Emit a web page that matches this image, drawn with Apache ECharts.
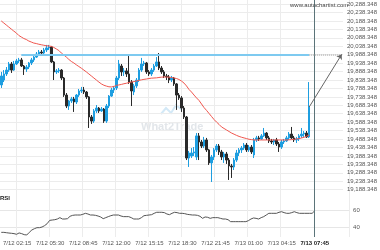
<!DOCTYPE html>
<html><head><meta charset="utf-8">
<script src="https://cdn.jsdelivr.net/npm/echarts@6/dist/echarts.min.js"></script>
<style>html,body{margin:0;padding:0;background:#fff}#c{width:380px;height:250px}</style>
</head><body><div id="c"></div>
<script>
// 15-minute candles (open, close, low, high)
const opens = [19809,19838,19874,19897,19933,19897,19933,19951,19957,19921,
19903,19915,19939,19957,19974,19992,20004,19998,20016,20028,
20034,19945,19886,19892,19897,19850,19749,19684,19714,19726,
19708,19749,19773,19779,19767,19738,19619,19595,19655,19672,
19655,19666,19595,19684,19743,19779,19791,19850,19921,19886,
19892,19874,19826,19767,19803,19838,19897,19933,19939,19886,
19874,19897,19921,19945,19909,19886,19862,19856,19838,19850,
19815,19749,19732,19672,19619,19376,19388,19406,19382,19507,
19471,19447,19483,19424,19347,19382,19424,19447,19412,19382,
19400,19364,19329,19323,19364,19406,19424,19435,19453,19424,
19441,19394,19483,19495,19489,19507,19524,19495,19477,19471,
19483,19459,19441,19471,19477,19495,19518,19495,19483,19489,
19507,19518,19524,19501];
const closes = [19862,19874,19897,19933,19897,19933,19951,19957,19921,19903,
19915,19939,19957,19974,19992,20004,19998,20016,20028,20034,
19945,19886,19892,19897,19850,19749,19684,19714,19726,19708,
19749,19773,19779,19767,19738,19619,19595,19655,19672,19655,
19666,19595,19684,19743,19779,19791,19850,19933,19886,19892,
19874,19826,19773,19803,19838,19897,19933,19939,19886,19874,
19897,19921,19945,19909,19886,19862,19856,19838,19850,19815,
19749,19732,19672,19619,19376,19406,19406,19412,19507,19471,
19447,19483,19424,19347,19382,19424,19447,19412,19382,19400,
19364,19329,19323,19364,19406,19424,19435,19453,19424,19441,
19412,19483,19495,19489,19507,19524,19495,19477,19471,19483,
19459,19441,19471,19477,19495,19518,19495,19483,19489,19507,
19518,19524,19501,19678];
const lows = [19791,19826,19862,19886,19880,19892,19927,19939,19915,19868,
19886,19903,19927,19945,19969,19980,19986,19992,20004,20016,
19939,19838,19874,19880,19838,19738,19672,19661,19702,19649,
19696,19738,19761,19755,19726,19554,19578,19584,19643,19643,
19649,19584,19584,19672,19738,19761,19779,19838,19862,19862,
19856,19815,19684,19749,19791,19826,19886,19921,19874,19862,
19862,19886,19915,19897,19874,19850,19838,19820,19826,19803,
19661,19720,19649,19607,19364,19323,19376,19388,19364,19364,
19435,19435,19412,19335,19234,19364,19412,19394,19364,19347,
19341,19246,19258,19305,19353,19388,19406,19424,19412,19412,
19400,19376,19471,19477,19483,19501,19483,19465,19459,19453,
19447,19412,19430,19459,19471,19483,19489,19471,19465,19477,
19495,19501,19495,19495];
const highs = [19886,19897,19915,19945,19945,19951,19963,19969,19969,19927,
19927,19945,19969,19986,20004,20016,20016,20028,20046,20046,
20040,19951,19903,19909,19903,19856,19761,19720,19738,19738,
19755,19785,19797,19797,19773,19743,19631,19666,19690,19678,
19678,19672,19696,19749,19791,19803,19862,19957,19933,19909,
19909,19992,19838,19815,19850,19909,19969,19951,19945,19897,
19909,19933,19974,19998,19921,19897,19874,19868,19862,19856,
19820,19761,19743,19684,19625,19418,19435,19441,19524,19524,
19483,19501,19495,19430,19394,19435,19459,19459,19424,19412,
19412,19376,19341,19376,19424,19435,19447,19465,19465,19453,
19453,19495,19507,19507,19518,19554,19530,19507,19489,19489,
19495,19471,19483,19489,19507,19530,19560,19507,19501,19518,
19554,19536,19536,19826];
// moving average (red line)
const movingAvg = [20188,20176,20164,20152,20140,20128,20117,20102,20093,20084,
20078,20069,20063,20057,20054,20050,20047,20044,20041,20040,
20037,20031,20022,20013,19998,19986,19974,19960,19948,19939,
19928,19918,19908,19897,19886,19874,19862,19850,19838,19826,
19815,19807,19802,19798,19797,19800,19806,19809,19812,19816,
19819,19823,19826,19829,19832,19836,19839,19842,19844,19847,
19849,19850,19851,19853,19855,19856,19856,19855,19853,19850,
19847,19841,19832,19820,19803,19782,19767,19749,19732,19717,
19696,19675,19658,19640,19622,19604,19589,19575,19560,19551,
19542,19533,19524,19517,19510,19504,19499,19495,19491,19487,
19485,19483,19483,19483,19483,19483,19483,19483,19483,19483,
19483,19483,19483,19483,19483,19484,19485,19487,19489,19491,
19495,19499,19505,19512];
// RSI
const rsi = [33.7,33.7,33.3,32.9,32.6,32.2,31.4,33.0,32.2,31.0,
30.6,33.7,36.5,38.0,39.2,39.2,40.0,41.6,43.9,47.8,
48.2,48.6,49.4,51.0,49.4,49.4,49.8,52.6,53.7,54.1,
54.1,54.1,54.9,56.1,55.3,54.1,54.1,53.7,52.9,51.8,
49.8,51.0,52.2,53.3,54.1,54.1,54.1,52.9,52.2,52.2,
52.2,51.0,49.4,49.4,49.4,51.0,53.3,53.7,54.1,54.5,
56.1,57.3,57.3,57.3,56.9,55.3,54.5,56.1,57.3,56.9,
56.1,56.1,55.7,54.9,54.5,54.1,54.1,53.7,52.6,50.2,
51.8,51.4,50.2,51.0,51.0,51.0,50.2,49.4,49.4,48.6,
46.3,46.3,46.3,46.3,46.3,46.3,46.3,47.5,49.4,50.6,
50.2,49.4,51.0,52.2,54.1,56.1,56.1,56.1,56.1,57.3,
58.0,56.9,56.1,56.1,56.9,58.0,56.9,56.1,56.1,56.1,
56.1,56.1,56.1,59.0];
// time axis tick labels and the candle slot each belongs to
const tickLabels = ['7/12 02:15','7/12 05:30','7/12 08:45','7/12 12:00','7/12 15:15','7/12 18:30','7/12 21:45','7/13 01:00','7/13 04:15','7/13 07:45'];
const tickSlots = [6,19,32,45,58,71,84,97,110,123];
const resistance = 19990;
const resistanceStart = 8;
const projectionSlot = 136;
const slotCount = 137; // candles + empty projection area
const priceMin = 19188.348, priceMax = 20288.348, priceStep = 50, priceFraction = 0.348;

const slots = [];
for (let i = 0; i < slotCount; i++) slots.push(String(i));
const candles = opens.map((o, i) => [o, closes[i], lows[i], highs[i]]);
const last = opens.length - 1;

const FONT = "'Liberation Sans', Arial, sans-serif";
const L = -1.64, W = 350.72;
const chart = echarts.init(document.getElementById('c'), null, {renderer: 'canvas'});
chart.setOption({
  animation: false,
  backgroundColor: '#fff',
  textStyle: {fontFamily: FONT},
  grid: [
    {left: L, width: W, top: 4, height: 185.7},
    {left: L, width: W, top: 210, height: 17},
    {left: L, width: W, top: 0, height: 237}
  ],
  xAxis: [
    {type: 'category', gridIndex: 0, data: slots, show: false},
    {type: 'category', gridIndex: 1, data: slots, show: false},
    {type: 'category', gridIndex: 2, data: slots,
     axisLine: {show: false}, axisTick: {show: false},
     splitLine: {show: true, interval: (i) => tickSlots.indexOf(i) >= 0 && i !== last, lineStyle: {color: '#ececec', width: 1}},
     axisLabel: {interval: (i) => tickSlots.indexOf(i) >= 0, margin: 3, fontSize: 6, color: '#555', fontFamily: FONT,
       formatter: (v, i) => { const k = tickSlots.indexOf(Number(v)); if (k < 0) return ''; return k === tickSlots.length - 1 ? '{b|' + tickLabels[k] + '}' : tickLabels[k]; },
       rich: {b: {fontSize: 6, color: '#222', fontWeight: 'bold', fontFamily: FONT}}}}
  ],
  yAxis: [
    {type: 'value', gridIndex: 0, position: 'right', min: priceMin, max: priceMax, interval: priceStep,
     axisLine: {show: false}, axisTick: {show: false},
     splitLine: {lineStyle: {color: '#ececec', width: 1}},
     axisLabel: {margin: 4, fontSize: 6, color: '#555', fontFamily: FONT,
       formatter: (v) => (Math.round(v - priceFraction) + priceFraction).toLocaleString('en-US', {minimumFractionDigits: 3, maximumFractionDigits: 3})}},
    {type: 'value', gridIndex: 1, position: 'right', min: 40, max: 60, interval: 20,
     axisLine: {show: false}, axisTick: {show: false},
     splitLine: {lineStyle: {color: '#e6e6e6', width: 1}},
     axisLabel: {margin: 4, fontSize: 6, color: '#555', fontFamily: FONT}},
    {type: 'value', gridIndex: 2, show: false, min: 0, max: 1}
  ],
  series: [
    {type: 'line', xAxisIndex: 2, yAxisIndex: 2, data: [], silent: true,
     markLine: {silent: true, symbol: 'none', label: {show: false},
       lineStyle: {color: '#5b7479', width: 1, type: 'solid'},
       data: [{xAxis: last}]}},
    {type: 'candlestick', xAxisIndex: 0, yAxisIndex: 0, data: candles, barWidth: 2, clip: false,
     itemStyle: {color: '#1e9ee0', color0: '#2a2a2a', borderColor: '#1e9ee0', borderColor0: '#2a2a2a', borderWidth: 1},
     markLine: {silent: true, symbol: 'none', label: {show: false}, animation: false,
       data: [
         [{coord: [resistanceStart, resistance], lineStyle: {color: '#7ecaf0', width: 2, type: 'solid'}}, {coord: [last, resistance]}],
         [{coord: [last, resistance], lineStyle: {color: '#c4c4c4', width: 2, type: [1, 1]}}, {coord: [projectionSlot, resistance]}],
         [{coord: [last, closes[last]], symbol: 'none', lineStyle: {color: '#666', width: 1, type: 'solid'}},
          {coord: [projectionSlot, resistance], symbol: 'arrow', symbolSize: 5}]
       ]}},
    {type: 'line', xAxisIndex: 0, yAxisIndex: 0, data: movingAvg, symbol: 'none', silent: true,
     lineStyle: {color: '#f0564e', width: 1}, z: 3},
    {type: 'line', xAxisIndex: 1, yAxisIndex: 1, data: rsi, symbol: 'none', silent: true, clip: false,
     lineStyle: {color: '#555', width: 1}}
  ],
  graphic: [
    {type: 'text', left: 290, top: 2, z: 10, style: {text: 'www.autochartist.com', fontSize: 6, fill: '#444', fontFamily: FONT}},
    {type: 'text', left: 0, top: 195, z: 10, style: {text: 'RSI', fontSize: 6, fontWeight: 'bold', fill: '#222', fontFamily: FONT}},
    {type: 'text', left: 141, top: 121, z: 0, style: {text: 'What2Trade', fontSize: 11, fontWeight: 'bold', fill: '#e2e6ea', fontFamily: FONT}},
    {type: 'polyline', z: 0, shape: {points: [[161, 114], [166, 108], [171, 113], [176, 105], [182, 110]]}, style: {stroke: '#d3e9f7', lineWidth: 2, fill: null}}
  ]
});
</script></body></html>
